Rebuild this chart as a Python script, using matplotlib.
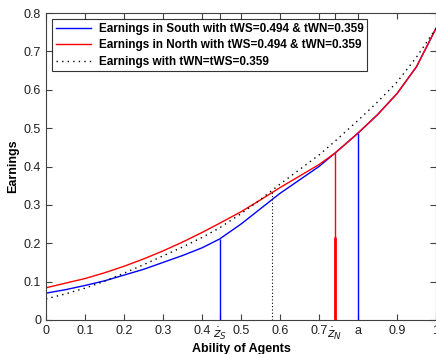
import matplotlib
matplotlib.use("Agg")
import matplotlib.pyplot as plt

plt.rcParams['font.family'] = ['Liberation Sans', 'DejaVu Sans']

# ------------------- data -------------------
ability = [0.0, 0.05, 0.1, 0.15, 0.2, 0.25, 0.3, 0.35, 0.4, 0.445,
           0.5, 0.55, 0.6, 0.65, 0.7, 0.74, 0.8, 0.85, 0.9, 0.95, 1.0]
earn_south = [0.070, 0.079, 0.090, 0.102, 0.117, 0.132, 0.150, 0.168, 0.188, 0.211,
              0.250, 0.290, 0.330, 0.365, 0.400, 0.434, 0.487, 0.535, 0.590, 0.660, 0.760]
earn_north = [0.084, 0.096, 0.108, 0.123, 0.140, 0.159, 0.180, 0.203, 0.228, 0.252,
              0.282, 0.313, 0.345, 0.375, 0.405, 0.434, 0.487, 0.535, 0.590, 0.660, 0.760]
earn_equal = [0.055, 0.068, 0.083, 0.101, 0.122, 0.144, 0.167, 0.190, 0.215, 0.240,
              0.277, 0.314, 0.354, 0.392, 0.430, 0.465, 0.520, 0.568, 0.620, 0.685, 0.760]

z_south = 0.445
z_equal = 0.58
z_north = 0.74
a_value = 0.80
south_at_z = 0.211
equal_at_z = 0.339
north_at_z = 0.434
north_thick_top = 0.215
south_at_a = 0.487

xticks = [0, 0.1, 0.2, 0.3, 0.4, z_south, 0.5, 0.6, 0.7, z_north, a_value, 0.9, 1.0]
xticklabels = ['0', '0.1', '0.2', '0.3', '0.4', r'$\dot{z}_S$', '0.5', '0.6', '0.7',
               r'$\dot{z}_N$', 'a', '0.9', '1']
yticks = [0, 0.1, 0.2, 0.3, 0.4, 0.5, 0.6, 0.7, 0.8]

# ------------------- plot -------------------
fig = plt.figure(figsize=(4.36, 3.54), dpi=100)
ax = fig.add_axes([46 / 436, 34 / 354, 390 / 436, 307 / 354])

ax.plot(ability, earn_south, color='blue', lw=1,
        label='Earnings in South with tWS=0.494 & tWN=0.359')
ax.plot(ability, earn_north, color='red', lw=1,
        label='Earnings in North with tWS=0.494 & tWN=0.359')
ax.plot(ability, earn_equal, color='black', lw=1, ls=(0, (1, 3)),
        label='Earnings with tWN=tWS=0.359')

ax.vlines(z_south, 0, south_at_z, color='blue', lw=1)
ax.vlines(z_equal, 0, equal_at_z, color='black', lw=0.8, ls=(0, (1, 2)))
ax.vlines(z_north, 0, north_at_z, color='red', lw=1)
ax.vlines(z_north, 0, north_thick_top, color='red', lw=2)
ax.vlines(a_value, 0, south_at_a, color='blue', lw=1)

ax.set_xlim(0, 1)
ax.set_ylim(0, 0.8)
ax.set_xticks(xticks)
ax.set_xticklabels(xticklabels)
ax.set_yticks(yticks)
ax.set_yticklabels(['0', '0.1', '0.2', '0.3', '0.4', '0.5', '0.6', '0.7', '0.8'])
ax.tick_params(direction='in', top=True, right=True, length=4, width=0.8,
               labelsize=9, color='#404040', labelcolor='#202020')
for s in ax.spines.values():
    s.set_color('#404040')
    s.set_linewidth(0.8)

ax.set_xlabel('Ability of Agents', fontsize=9, fontweight='bold', labelpad=1)
ax.set_ylabel('Earnings', fontsize=9, fontweight='bold', labelpad=3)

leg = ax.legend(loc='upper left', fontsize=8.5, frameon=True, fancybox=False,
                edgecolor='black', borderpad=0.3, handlelength=3.0,
                labelspacing=0.37, handletextpad=0.6, borderaxespad=0.55)
leg.get_frame().set_linewidth(0.8)
for t in leg.get_texts():
    t.set_fontweight('bold')

plt.savefig('out.png', dpi=100)
